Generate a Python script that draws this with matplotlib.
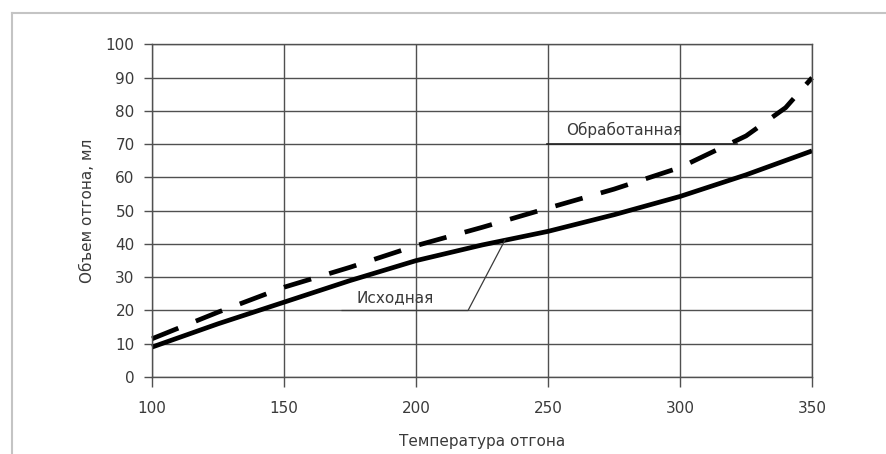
"""Объем отгона в зависимости от температуры: исходная и обработанная."""

import matplotlib

matplotlib.use("Agg")
import matplotlib.pyplot as plt
from matplotlib.lines import Line2D

temp_initial = [100, 125, 150, 175, 200, 225, 250, 275, 300, 325, 350]
volume_initial = [9, 16, 22.5, 29, 35, 39.7, 43.8, 48.8, 54.3, 60.8, 68]

temp_treated = [100, 125, 150, 175, 200, 225, 250, 275, 300, 325, 340, 350]
volume_treated = [11.5, 19.5, 27, 33, 39.5, 45, 50.8, 56.5, 63, 72.5, 81, 90]

x_ticks = [100, 150, 200, 250, 300, 350]
y_ticks = list(range(0, 101, 10))


def main() -> None:
    plt.rcParams["font.family"] = ["DejaVu Sans"]

    fig = plt.figure(figsize=(8.86, 4.54), dpi=100)
    ax = fig.add_axes([0.1716, 0.1696, 0.7449, 0.7324])

    grid_color = "#505050"
    text_color = "#3a3a3a"
    ax.set_xlim(100, 350)
    ax.set_ylim(0, 100)
    ax.set_xticks(x_ticks)
    ax.set_yticks(y_ticks)
    ax.grid(True, color=grid_color, linewidth=1.0)
    ax.set_axisbelow(True)
    for spine in ax.spines.values():
        spine.set_color(grid_color)
        spine.set_linewidth(1.0)
    ax.tick_params(direction="out", width=1.0, color=grid_color,
                   labelsize=11, labelcolor=text_color)
    ax.tick_params(axis="x", length=7, pad=10)
    ax.tick_params(axis="y", length=5.5, pad=7)

    ax.plot(temp_initial, volume_initial, color="black", linewidth=3.4,
            solid_capstyle="butt", clip_on=False)
    ax.plot(temp_treated, volume_treated, color="black", linewidth=3.4,
            linestyle=(0, (6, 4)), dash_capstyle="butt", clip_on=False)

    # подписи кривых с выносками
    ax.plot([172, 219.7, 233.7], [20, 20, 41.2], color=text_color, linewidth=0.9)
    ax.text(177.5, 21.5, "Исходная", fontsize=11, color=text_color,
            ha="left", va="bottom")
    ax.plot([249.6, 321.6], [70, 70], color="#222222", linewidth=1.2)
    ax.text(257, 72, "Обработанная", fontsize=11, color=text_color,
            ha="left", va="bottom")

    ax.set_xlabel("Температура отгона", fontsize=11, color=text_color, labelpad=13)
    ax.set_ylabel("Объем отгона, мл", fontsize=11, color=text_color, labelpad=8)

    # рамка рисунка
    frame = "#c4c4c4"
    fig.add_artist(Line2D([11.5 / 886, 11.5 / 886], [0, 1 - 12.5 / 454],
                          transform=fig.transFigure, color=frame, linewidth=1.5))
    fig.add_artist(Line2D([11.5 / 886, 1], [1 - 12.5 / 454, 1 - 12.5 / 454],
                          transform=fig.transFigure, color=frame, linewidth=1.5))

    fig.savefig("out.png", dpi=100)


if __name__ == "__main__":
    main()
